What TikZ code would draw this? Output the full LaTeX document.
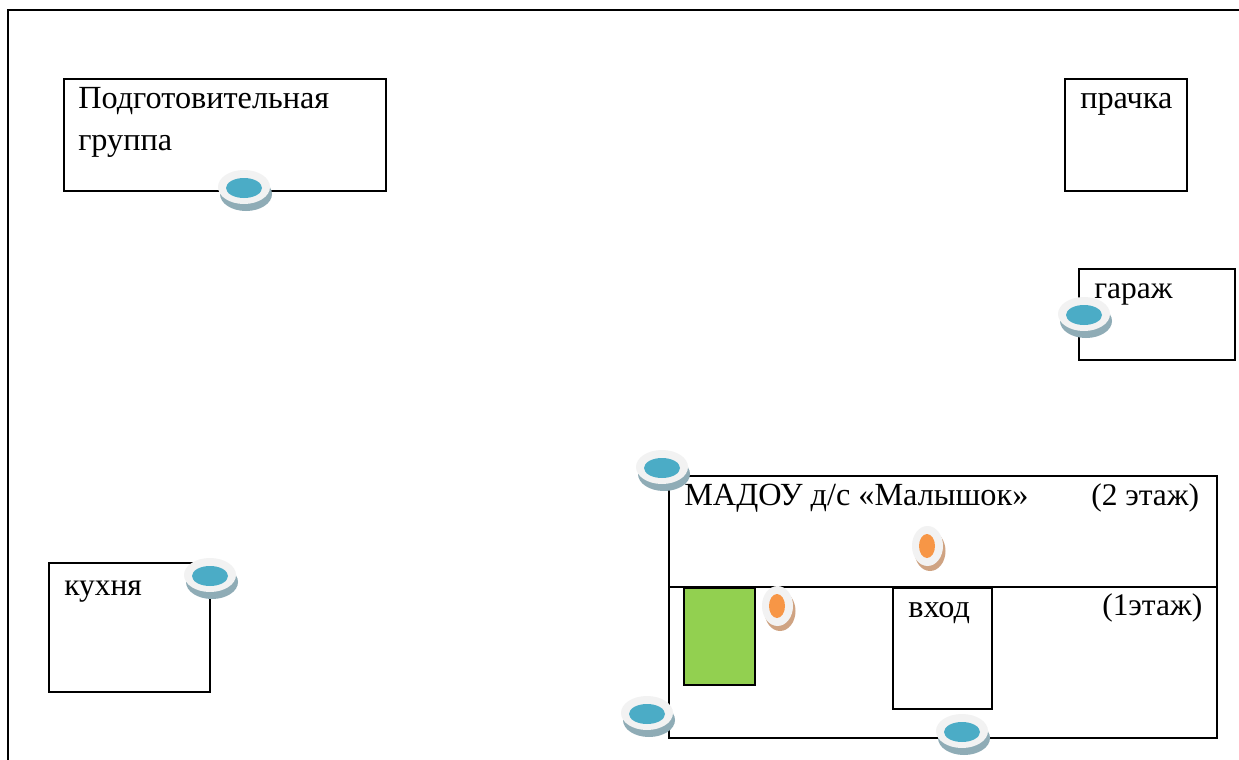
\documentclass[tikz,border=0pt]{standalone}
\usepackage{fontspec}
\setmainfont{Liberation Serif}
\definecolor{ringc}{HTML}{F2F2F2}
\definecolor{bluec}{HTML}{4BACC6}
\definecolor{blueshadow}{HTML}{8FACB6}
\definecolor{orangec}{HTML}{F79646}
\definecolor{orangeshadow}{HTML}{CFA382}
\definecolor{greenc}{HTML}{92D050}
\newcommand{\bluemark}[2]{%
  \fill[blueshadow] (#1+2,#2+6) ellipse [x radius=26,y radius=17];
  \fill[ringc] (#1,#2-1) ellipse [x radius=26,y radius=17];
  \fill[bluec] (#1,#2) ellipse [x radius=18,y radius=10];}
\newcommand{\orangemark}[2]{%
  \fill[orangeshadow] (#1+3,#2+5) ellipse [x radius=15.5,y radius=20];
  \fill[ringc] (#1+0.5,#2) ellipse [x radius=15.5,y radius=20];
  \fill[orangec] (#1,#2) ellipse [x radius=8,y radius=12];}
\begin{document}
\begin{tikzpicture}[x=0.75pt,y=-0.75pt,
  wall/.style={draw=black,line width=1.5pt},
  room/.style={wall,fill=white},
  label/.style={anchor=base west,inner sep=0pt,font=\fontsize{24.2pt}{29pt}\selectfont},
  shortlabel/.style={anchor=base west,inner sep=0pt,font=\fontsize{23.6pt}{29pt}\selectfont}]
\useasboundingbox (0,0) rectangle (1239,760);
\fill[white] (0,0) rectangle (1239,760);
\coordinate (outerA) at (8,760);
\coordinate (outerB) at (8,10);
\coordinate (outerC) at (1239,10);
\draw[wall] (outerA) -- (outerB) -- (outerC);
\draw[room] (64,79) rectangle (386,191);
\draw[room] (1065,79) rectangle (1187,191);
\draw[room] (1079,269) rectangle (1235,360);
\draw[room] (49,563) rectangle (210,692);
\draw[room] (669,476) rectangle (1217,738);
\coordinate (floorL) at (669,587);
\coordinate (floorR) at (1217,587);
\draw[wall] (floorL) -- (floorR);
\draw[room] (893,588) rectangle (992,709);
\draw[wall,fill=greenc] (684,588) rectangle (755,685);
\node[label] (prepA) at (78,108.5) {Подготовительная};
\node[label] (prepB) at (78,150.5) {группа};
\node[label] (laundry) at (1080,108.5) {прачка};
\node[shortlabel] (garage) at (1094,298) {гараж};
\node[shortlabel] (kitchen) at (64,595) {кухня};
\node[label] (school) at (684,505.5) {МАДОУ д/с «Малышок»};
\node[shortlabel] (floorTwo) at (1091,505.5) {(2 этаж)};
\node[label] (entrance) at (908,617) {вход};
\node[shortlabel] (floorOne) at (1102,615) {(1этаж)};
\bluemark{244}{188}
\bluemark{1084}{315}
\bluemark{662}{468}
\bluemark{210}{576}
\bluemark{647}{714}
\bluemark{962}{732}
\orangemark{927}{546}
\orangemark{777}{606}
\end{tikzpicture}
\end{document}
